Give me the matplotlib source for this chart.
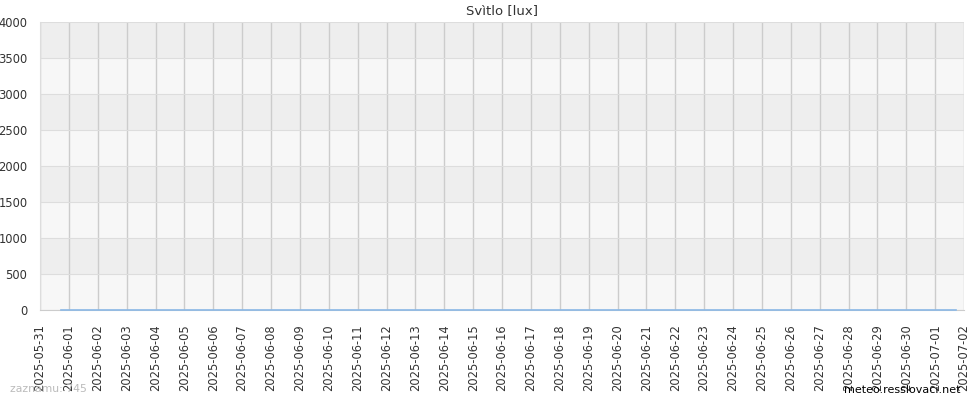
import matplotlib
matplotlib.use("Agg")
import matplotlib.pyplot as plt
import matplotlib.dates as mdates
import pandas as pd

title = "Svìtlo [lux]"
times = pd.to_datetime(["2025-05-31 17:30", "2025-07-01 17:00"])
values = [0, 0]
record_count = 745
ylim = (0, 4000)
xstart, xend = pd.Timestamp("2025-05-31"), pd.Timestamp("2025-07-02")

fig = plt.figure(figsize=(9.7, 4.0), dpi=100)
ax = fig.add_axes([40/970, 1-310/400, 924/970, 288/400])
ax.set_xlim(xstart, xend)
ax.set_ylim(*ylim)
for i, y0 in enumerate(range(0, 4000, 500)):
    ax.axhspan(y0, y0+500, color="#f7f7f7" if i % 2 == 0 else "#eeeeee", zorder=0, lw=0)
ax.yaxis.set_major_locator(plt.MultipleLocator(500))
ax.xaxis.set_major_locator(mdates.DayLocator())
ax.xaxis.set_major_formatter(mdates.DateFormatter("%Y-%m-%d"))
ax.grid(axis="x", color="#cccccc", lw=1, zorder=1)
ax.grid(axis="y", color="#dddddd", lw=0.8, zorder=1)
ax.set_axisbelow(True)
ax.plot(times, values, color="#8ab8e6", lw=1.2, zorder=3, clip_on=False)
for s in ax.spines.values():
    s.set_visible(False)
ax.spines["left"].set_visible(True)
ax.spines["left"].set_color("#dddddd")
ax.spines["bottom"].set_visible(True)
ax.spines["bottom"].set_color("#cccccc")
ax.tick_params(length=0, labelsize=8.3, colors="#333333")
ax.tick_params(axis="x", pad=10)
ax.tick_params(axis="y", pad=9)
plt.setp(ax.get_xticklabels(), rotation=90)
ax.set_title(title, fontsize=9.5, color="#333333", pad=6)
fig.text(10/970, 1-389/400, f"zaznamu: {record_count}", fontsize=7.8, color="#bbbbbb", va="center")
fig.text(961/970, 1-390/400, "meteo.resslovaci.net", fontsize=8, color="black", va="center", ha="right")
fig.savefig("out.png", dpi=100)
